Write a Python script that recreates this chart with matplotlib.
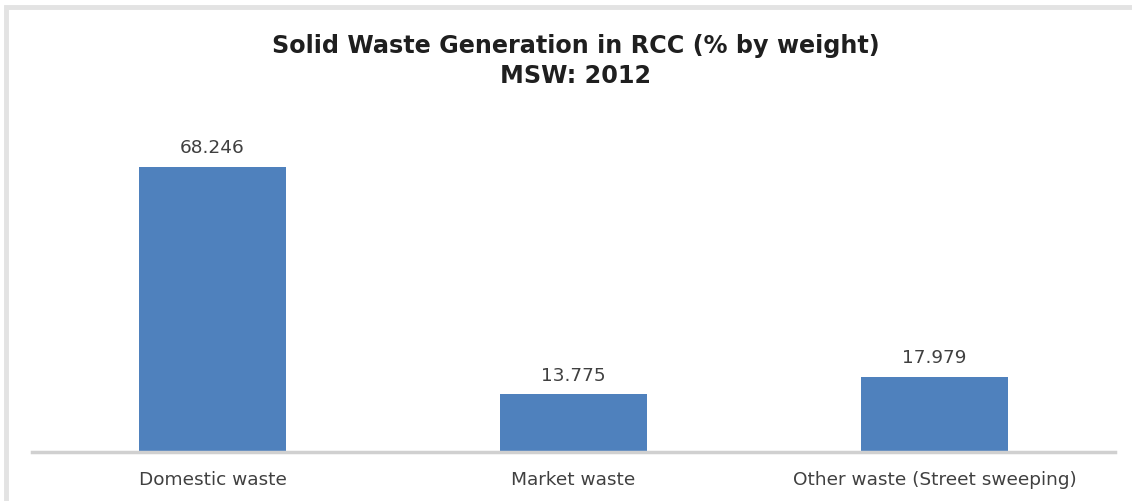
import matplotlib
matplotlib.use("Agg")
import matplotlib.pyplot as plt
from matplotlib.patches import Rectangle

categories = ["Domestic waste", "Market waste", "Other waste (Street sweeping)"]
values = [68.246, 13.775, 17.979]
value_labels = ["68.246", "13.775", "17.979"]

plt.rcParams['font.family'] = ['DejaVu Sans']

W, H = 1132, 501
fig = plt.figure(figsize=(W / 100, H / 100), dpi=100)

# axes placement in pixels
left, right, top, bottom = 32, 1115, 118, 452
ax = fig.add_axes([left / W, 1 - bottom / H, (right - left) / W, (bottom - top) / H])

x = range(len(categories))
ax.bar(x, values, width=0.405, color="#4f81bd", zorder=2)
ax.set_xlim(-0.5, 2.5)
ax.set_ylim(0, 80)

for xi, v, lab in zip(x, values, value_labels):
    ax.annotate(lab, (xi, v), xytext=(0, 7), textcoords="offset points",
                ha="center", va="bottom", fontsize=13.3, color="#404040")

ax.set_xticks(list(x))
ax.set_xticklabels(categories, fontsize=13.3, color="#404040")
ax.tick_params(axis="x", length=0, pad=13.5)
ax.set_yticks([])
for s in ["top", "right", "left"]:
    ax.spines[s].set_visible(False)
ax.spines["bottom"].set_color("#d0d0d0")
ax.spines["bottom"].set_linewidth(2.5)
ax.set_facecolor("none")

cx = 576 / W
fig.text(cx, 1 - 46 / H, "Solid Waste Generation in RCC (% by weight)",
         ha="center", va="center", fontsize=17.2, fontweight="bold", color="#1f1f1f")
fig.text(cx, 1 - 76 / H, "MSW: 2012",
         ha="center", va="center", fontsize=17.2, fontweight="bold", color="#1f1f1f")

# chart border (light gray)
fig.patches.append(Rectangle((6 / W, -0.05), 1.2, 1 - 7 / H + 0.05, transform=fig.transFigure,
                             fill=False, edgecolor="#e3e3e3", linewidth=3.5))

fig.savefig("out.png", dpi=100)
